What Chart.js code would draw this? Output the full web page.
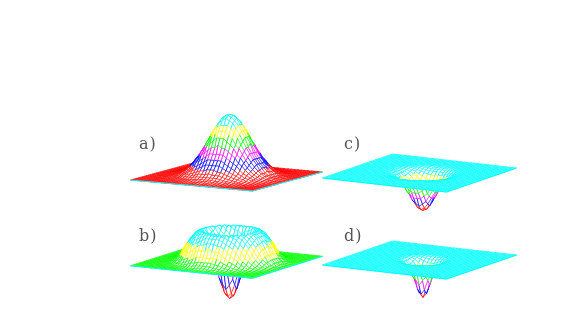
<!DOCTYPE html>
<html lang="en">

<head>
    <meta charset="UTF-8">
    <script src="https://cdn.jsdelivr.net/npm/chart.js@4"></script>
    <title>Surfaces</title>
    <style>
        body { margin: 0; background: #fff; }
        canvas { display: block; }
    </style>
</head>

<body>
    <canvas id="myChart" width="581" height="332"></canvas>
</body>

<script type='text/javascript'>

    const panelLabels = ['a)', 'b)', 'c)', 'd)'];

    // surface height against distance from the centre, one reading every 0.025 of the plate half width
    const profileA = [62, 61.8, 61.1, 60.1, 58.7, 56.8, 54.7, 52.3, 49.6, 46.8, 43.8, 40.7, 37.6, 34.5, 31.4, 28.4, 25.5, 22.7, 20.1, 17.7, 15.5, 13.4, 11.6, 9.9, 8.4, 7.1, 5.9, 4.9, 4.1, 3.3, 2.7, 2.2, 1.8, 1.4, 1.1, 0.8, 0.6, 0.4, 0.3, 0.2];
    const profileB = [-37, -36.5, -34.5, -31, -27, -22, -16, -10, -4, 2, 8, 13, 18, 23, 27, 29.5, 31, 31, 30, 29, 27.5, 25.5, 23.5, 21.5, 19.5, 16.5, 13.5, 10.5, 8, 6.5, 5, 3.5, 2.5, 1.8, 1.2, 0.8, 0.5, 0.3, 0.2];
    const profileC = [-37, -36.6, -35.5, -33.7, -31.5, -29, -26, -23, -20, -17, -14, -11.3, -9, -7, -5.5, -4.2, -3, -2.2, -1.5, -1, -0.6, -0.4, -0.2];
    const profileD = [-37, -36, -33, -28.5, -23.5, -18.5, -14.5, -11, -8, -5.5, -3.8, -2.5, -1.6, -1, -0.5, -0.2];

    const bandColors = ['#ff0000', '#0000ff', '#ff00ff', '#00ff00', '#ffff00', '#00ffff'];
    const meshSize = 36;
    const profileStep = 0.025;

    // where each plate sits on the page: centre, half edge along u, half edge along v
    const panels = [
        { label: panelLabels[0], profile: profileA, cx: 226.5, cy: 176, ux: 61, uy: 5.5, vx: 35, vy: -9.5, tx: 139, ty: 149 },
        { label: panelLabels[1], profile: profileB, cx: 226.5, cy: 261, ux: 61, uy: 6.25, vx: 35, vy: -11, tx: 139, ty: 241 },
        { label: panelLabels[2], profile: profileC, cx: 419.5, cy: 173, ux: 62, uy: 7, vx: 35, vy: -12, tx: 344, ty: 149 },
        { label: panelLabels[3], profile: profileD, cx: 419.5, cy: 260, ux: 62, uy: 7, vx: 35, vy: -12, tx: 344, ty: 241 }
    ];

    const gap = { x: NaN, y: NaN };

    makePanel = (panel) => {
        const lowest = Math.min(...panel.profile, 0);
        const highest = Math.max(...panel.profile, 0);

        const node = (i, j) => {
            const u = i / meshSize * 2 - 1;
            const v = j / meshSize * 2 - 1;
            // the bump sits one mesh cell off the plate centre
            const r = Math.hypot(u - 2 / meshSize, v);
            const z = panel.profile[Math.round(r / profileStep)] || 0;
            return {
                x: panel.cx + u * panel.ux + v * panel.vx,
                y: panel.cy + u * panel.uy + v * panel.vy - z,
                z: z
            };
        };

        const colorOf = (z) => {
            const band = Math.floor((z - lowest) / (highest - lowest) * bandColors.length);
            return bandColors[Math.min(band, bandColors.length - 1)];
        };

        const list = [];
        // back to front, so every strip hides what is behind it
        for (let i = 0; i < meshSize; i++) {
            const back = [];
            const front = [];
            for (let j = 0; j <= meshSize; j++) {
                back.push(node(i, j));
                front.push(node(i + 1, j));
            }
            list.push({
                data: back.concat(front.slice().reverse()),
                fill: 'shape',
                backgroundColor: '#ffffff',
                borderWidth: 0,
                pointRadius: 0
            });

            const wires = back.concat([gap], front);
            for (let j = 0; j <= meshSize; j++) {
                wires.push(gap, back[j], front[j]);
            }
            list.push({
                data: wires,
                fill: false,
                borderColor: bandColors[0],
                borderWidth: 0.7,
                pointRadius: 0,
                segment: {
                    borderColor: (ctx) => colorOf((wires[ctx.p0DataIndex].z + wires[ctx.p1DataIndex].z) / 2)
                }
            });
        }

        // plate outline
        list.push({
            data: [node(0, 0), node(meshSize, 0), node(meshSize, meshSize)],
            fill: false,
            borderColor: '#00ffff',
            borderWidth: 1,
            pointRadius: 0
        });
        return list;
    };

    let datasets = [];
    panels.forEach((panel) => {
        datasets = datasets.concat(makePanel(panel));
    });
    // Chart.js paints the last dataset first
    datasets.reverse();

    const panelText = {
        id: 'panelText',
        afterDatasetsDraw(chart) {
            const ctx = chart.ctx;
            ctx.save();
            ctx.font = '16px "DejaVu Serif"';
            ctx.letterSpacing = '1px';
            ctx.fillStyle = '#555555';
            panels.forEach((panel) => {
                ctx.fillText(panel.label, chart.scales.x.getPixelForValue(panel.tx), chart.scales.y.getPixelForValue(panel.ty));
            });
            ctx.restore();
        }
    };

    new Chart(document.getElementById('myChart').getContext('2d'), {
        type: 'line',
        data: { datasets: datasets },
        plugins: [panelText],
        options: {
            responsive: false,
            animation: false,
            events: [],
            layout: { padding: 0 },
            elements: { line: { tension: 0 } },
            plugins: { legend: { display: false }, tooltip: { enabled: false } },
            scales: {
                x: { type: 'linear', display: false, min: 0, max: 581 },
                y: { type: 'linear', display: false, min: 0, max: 332, reverse: true }
            }
        }
    });

</script>

</html>
